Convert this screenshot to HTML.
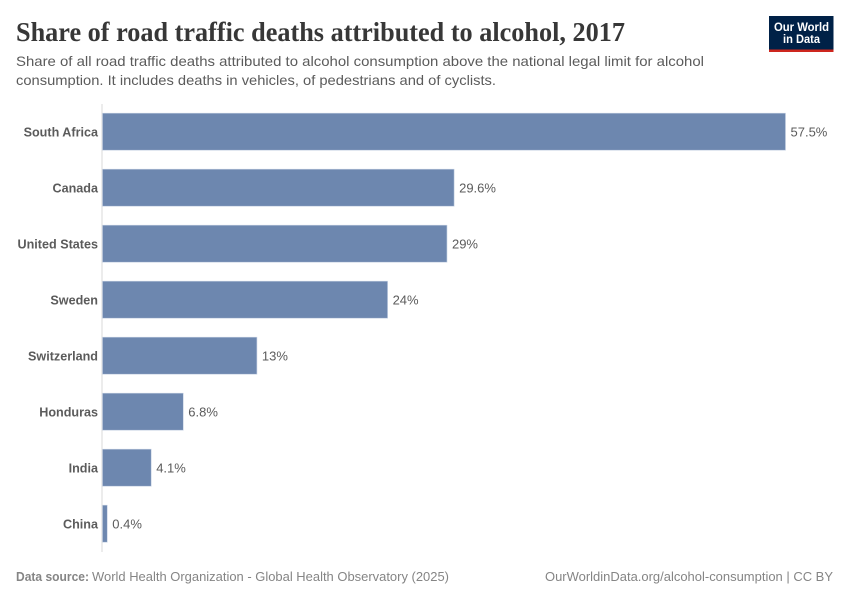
<!DOCTYPE html>
<html lang="en">
<head>
<meta charset="utf-8">
<title>Share of road traffic deaths attributed to alcohol, 2017</title>
<style>
html,body{margin:0;padding:0;background:#fff;}
svg{display:block;}
text{font-family:"Liberation Sans",sans-serif;}
</style>
</head>
<body>
<svg id="chart" width="850" height="600" viewBox="0 0 850 600" xmlns="http://www.w3.org/2000/svg">
  <rect x="0" y="0" width="850" height="600" fill="#ffffff"/>
  <text x="16" y="41" font-size="27" font-weight="700" fill="#373737" textLength="609" lengthAdjust="spacingAndGlyphs" style="font-family:'Liberation Serif',serif">Share of road traffic deaths attributed to alcohol, 2017</text>
  <text x="16" y="66" font-size="14" fill="#5b5b5b" textLength="688" lengthAdjust="spacingAndGlyphs">Share of all road traffic deaths attributed to alcohol consumption above the national legal limit for alcohol</text>
  <text x="16" y="85" font-size="14" fill="#5b5b5b" textLength="480" lengthAdjust="spacingAndGlyphs">consumption. It includes deaths in vehicles, of pedestrians and of cyclists.</text>

  <g>
    <rect x="769" y="16" width="64.5" height="36" fill="#002147"/>
    <rect x="769" y="49.5" width="64.5" height="2.5" fill="#ce261e"/>
    <text x="801.5" y="31" font-size="12" font-weight="700" fill="#ffffff" text-anchor="middle" textLength="55" lengthAdjust="spacingAndGlyphs">Our World</text>
    <text x="801.5" y="43" font-size="12" font-weight="700" fill="#ffffff" text-anchor="middle" textLength="37" lengthAdjust="spacingAndGlyphs">in Data</text>
  </g>

  <line x1="102" y1="104" x2="102" y2="552" stroke="#dadada" stroke-width="1"/>
  <g id="bars"></g>

  <text x="16" y="581" font-size="13" font-weight="700" fill="#858585" textLength="73" lengthAdjust="spacingAndGlyphs">Data source:</text>
  <text x="92" y="581" font-size="13" fill="#858585" textLength="357" lengthAdjust="spacingAndGlyphs">World Health Organization - Global Health Observatory (2025)</text>
  <text x="545" y="581" font-size="13" fill="#858585" textLength="288" lengthAdjust="spacingAndGlyphs">OurWorldinData.org/alcohol-consumption | CC BY</text>
</svg>
<script>
const categories = ["South Africa", "Canada", "United States", "Sweden", "Switzerland", "Honduras", "India", "China"];
const seriesValues = [57.5, 29.6, 29, 24, 13, 6.8, 4.1, 0.4];

const SVG_NS = "http://www.w3.org/2000/svg";
const plotLeft = 102.5;
const plotRight = 785.5;
const domainMax = 57.5;
const bandTop = 103.7;
const bandStep = 56;
const barHeight = 37;

function xScale(value) {
  return plotLeft + (value / domainMax) * (plotRight - plotLeft);
}
function yBand(index) {
  return bandTop + bandStep * index + (bandStep - barHeight) / 2;
}

const barsGroup = document.getElementById("bars");
categories.forEach(function (category, i) {
  const value = seriesValues[i];
  const y = yBand(i);
  const x1 = xScale(value);
  const midY = y + barHeight / 2;

  const label = document.createElementNS(SVG_NS, "text");
  
  
  label.setAttribute("x", plotLeft - 4.5);
  label.setAttribute("y", midY + 4.7);
  label.setAttribute("text-anchor", "end");
  label.setAttribute("font-size", "12.6");
  label.setAttribute("font-weight", "700");
  label.setAttribute("fill", "#5b5b5b");
  label.textContent = category;
  barsGroup.appendChild(label);

  const bar = document.createElementNS(SVG_NS, "rect");
  
  
  bar.setAttribute("x", plotLeft);
  bar.setAttribute("y", y);
  bar.setAttribute("width", x1 - plotLeft);
  bar.setAttribute("height", barHeight);
  bar.setAttribute("fill", "#6D87AF");
  bar.setAttribute("stroke", "#c3cfe2");
  bar.setAttribute("stroke-width", "0.6");
  barsGroup.appendChild(bar);

  const valueLabel = document.createElementNS(SVG_NS, "text");
  
  
  valueLabel.setAttribute("x", x1 + 5);
  valueLabel.setAttribute("y", midY + 4.7);
  valueLabel.setAttribute("font-size", "13");
  valueLabel.setAttribute("fill", "#5b5b5b");
  valueLabel.textContent = value + "%";
  barsGroup.appendChild(valueLabel);
});
</script>
</body>
</html>
